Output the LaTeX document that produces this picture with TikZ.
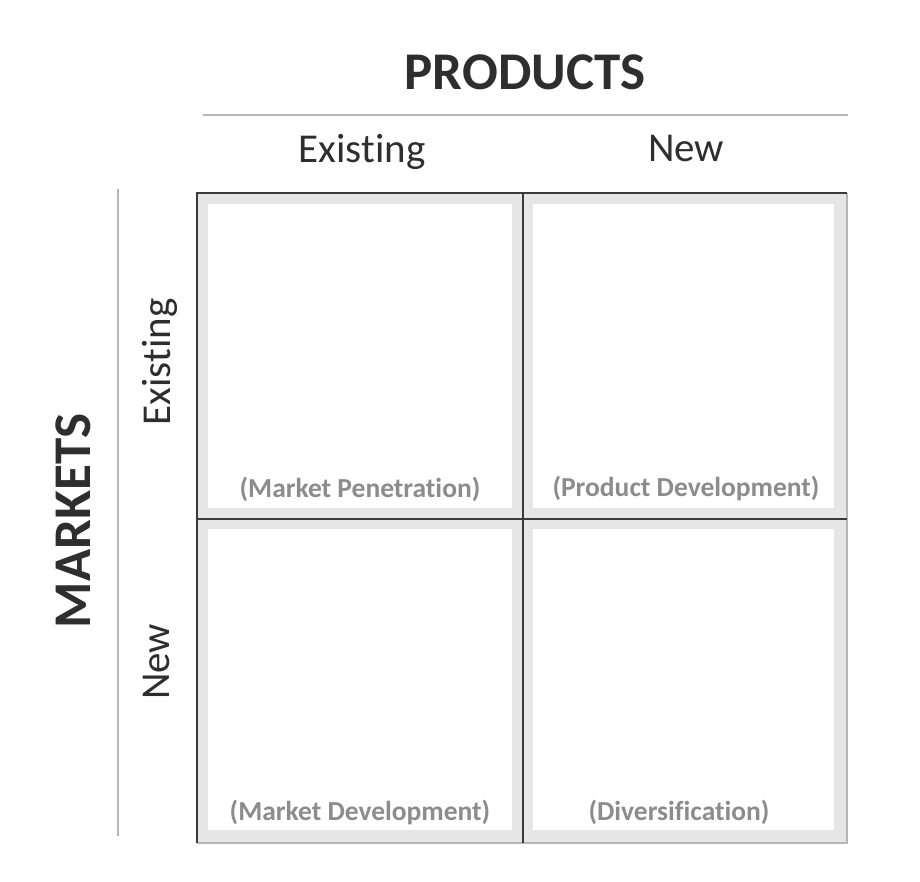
\documentclass[tikz,border=0pt]{standalone}
\usepackage{fontspec}
\setmainfont{Carlito}[Ligatures=NoCommon]
\definecolor{darkline}{HTML}{3A3A3A}
\definecolor{band}{HTML}{E6E6E6}
\definecolor{lightline}{HTML}{B6B6B6}
\definecolor{txt}{HTML}{2E2E2E}
\definecolor{celltxt}{HTML}{8C8C8C}
\tikzset{
  heading/.style={font=\fontsize{53}{58}\selectfont\bfseries, text=txt, inner sep=0pt, anchor=base},
  sublabel/.style={font=\fontsize{41}{46}\selectfont, text=txt, inner sep=0pt, anchor=base},
  celllabel/.style={font=\fontsize{27.5}{31}\selectfont\bfseries, text=celltxt, inner sep=0pt, anchor=base},
  cellband/.style={fill=band, draw=none},
  cellwhite/.style={fill=white, draw=none},
  gridline/.style={draw=darkline, line width=2pt},
  sepline/.style={draw=lightline, line width=2.2pt},
}
\begin{document}
\begin{tikzpicture}[x=1pt,y=-1pt]
\useasboundingbox[fill=white] (0,0) rectangle (920,882);
% cells
\fill[cellband] (197,193) rectangle (847,843);
\fill[cellwhite] (208,204) rectangle (512,508);
\fill[cellwhite] (533,204) rectangle (834,508);
\fill[cellwhite] (208,529) rectangle (512,830);
\fill[cellwhite] (533,529) rectangle (834,830);
% grid coordinates
\coordinate (tl) at (197,193);
\coordinate (tr) at (847,193);
\coordinate (bl) at (197,843);
\coordinate (br) at (847,843);
\coordinate (tm) at (523,193);
\coordinate (bm) at (523,843);
\coordinate (lm) at (197,519);
\coordinate (rm) at (847,519);
\draw[draw=lightline, line width=1.5pt] (tr) -- (br) -- (bl);
\draw[gridline] (bl) -- (tl) -- (tr);
\draw[gridline] (tm) -- (bm);
\draw[gridline] (lm) -- (rm);
% separators
\coordinate (hs1) at (203,115);
\coordinate (hs2) at (848,115);
\coordinate (vs1) at (118,189);
\coordinate (vs2) at (118,836);
\draw[sepline] (hs1) -- (hs2);
\draw[sepline] (vs1) -- (vs2);
% headings
\node[heading] (products) at (525,90) {PRODUCTS};
\node[heading, rotate=90] (markets) at (90,521) {MARKETS};
\node[sublabel] (pexist) at (362,163) {Existing};
\node[sublabel] (pnew) at (686,162) {New};
\node[sublabel, rotate=90] (mexist) at (170,362) {Existing};
\node[sublabel, rotate=90] (mnew) at (169,662) {New};
% cell labels
\node[celllabel] (mp) at (360,497) {(Market Penetration)};
\node[celllabel] (pd) at (686,496) {(Product Development)};
\node[celllabel] (md) at (360,820) {(Market Development)};
\node[celllabel] (dv) at (679,820) {(Diversification)};
\end{tikzpicture}
\end{document}
